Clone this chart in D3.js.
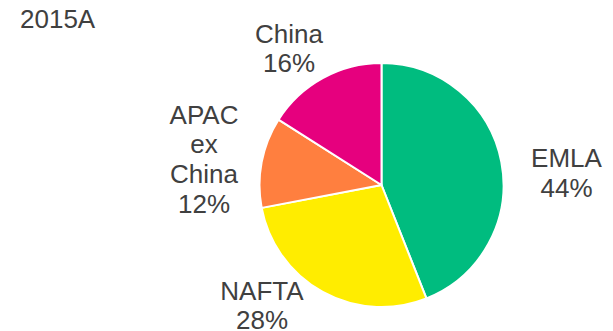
<!DOCTYPE html>
<html>
<head>
<meta charset="utf-8">
<script src="https://cdn.jsdelivr.net/npm/d3@7"></script>
<style>
  html, body { margin: 0; padding: 0; background: #fff; }
  svg { display: block; }
  text { font-family: "Liberation Sans", Arial, sans-serif; fill: #404040; }
</style>
</head>
<body>
<svg id="chart" width="613" height="331"></svg>
<script>
const title = "2015A";
const regions = ["EMLA", "NAFTA", "APAC ex China", "China"];
const shares = [44, 28, 12, 16];
const colors = ["#00bc7f", "#ffed00", "#ff7f3f", "#e6007e"];
// Label lines and anchor points for each slice
const labelLines = [["EMLA", "44%"], ["NAFTA", "28%"], ["APAC", "ex", "China", "12%"], ["China", "16%"]];
const labelPos = [[566.5, 172.7], [262, 305.3], [204, 159], [289, 48.5]];

const svg = d3.select("#chart");
const cx = 381.5, cy = 185, r = 122;
const fontSize = 26;

svg.append("text")
  .attr("x", 20).attr("y", 28.3)
  .attr("font-size", fontSize)
  .text(title);

const pie = d3.pie().sort(null).value(d => d.value);
const arc = d3.arc().innerRadius(0).outerRadius(r);
const data = regions.map((name, i) => ({ name, value: shares[i], color: colors[i] }));

const g = svg.append("g").attr("transform", `translate(${cx},${cy})`);
g.selectAll("path")
  .data(pie(data))
  .join("path")
  .attr("d", arc)
  .attr("fill", d => d.data.color)
  .attr("stroke", "#fff")
  .attr("stroke-width", 2)
  .attr("stroke-linejoin", "round");

const lineH = 29.7;
labelLines.forEach((lines, i) => {
  const [x, y] = labelPos[i];
  const t = svg.append("text")
    .attr("text-anchor", "middle")
    .attr("font-size", fontSize);
  const top = y - (lines.length - 1) * lineH / 2;
  lines.forEach((s, j) => {
    t.append("tspan")
      .attr("x", x)
      .attr("y", top + j * lineH)
      .attr("dy", "0.35em")
      .text(s);
  });
});
</script>
</body>
</html>
